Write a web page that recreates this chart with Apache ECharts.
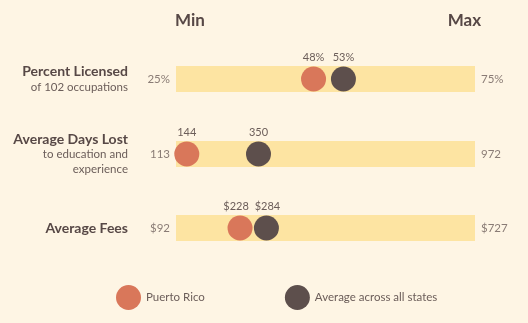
<!DOCTYPE html>
<html><head><meta charset="utf-8">
<script src="https://cdn.jsdelivr.net/npm/echarts@6/dist/echarts.min.js"></script>
<style>html,body{margin:0;padding:0;background:#fef5e4;}#c{width:528px;height:323px;}</style>
</head><body><div id="c"></div>
<script>
const rowTitles = ['Percent Licensed', 'Average Days Lost', 'Average Fees'];
const rowSubtitles = [['of 102 occupations'], ['to education and', 'experience'], []];
const minValues = [25, 113, 92];
const maxValues = [75, 972, 727];
const puertoRico = [48, 144, 228];
const allStates = [53, 350, 284];
const prefixes = ['', '', '$'];
const suffixes = ['%', '', ''];
const seriesNames = ['Puerto Rico', 'Average across all states'];
const headers = ['Min', 'Max'];

const FONT = 'Lato, "Open Sans", sans-serif';
const TXT = '#6b5d59';
const DARKTXT = '#574846';
const BAR = '#fde4a2';
const ORANGE = '#d9775a';
const BROWN = '#5d4f4c';
const tops = [66, 141, 215];

const fmt = (i, v) => prefixes[i] + v + suffixes[i];

const grids = [], xAxes = [], yAxes = [], series = [];
rowTitles.forEach((t, i) => {
  grids.push({left: 176, right: 53, top: tops[i], height: 26, containLabel: false});
  xAxes.push({type: 'value', gridIndex: i, min: minValues[i], max: maxValues[i], show: false});
  const lines = ['{t|' + t + '}'].concat(rowSubtitles[i].map(s => '{s|' + s + '}'));
  yAxes.push({type: 'category', gridIndex: i, data: [t],
    axisLine: {show: false}, axisTick: {show: false}, splitLine: {show: false},
    axisLabel: {margin: 48, align: 'right', formatter: () => lines.join('\n'),
      rich: {t: {fontFamily: FONT, fontSize: 14, fontWeight: 'bold', color: DARKTXT, lineHeight: 16, align: 'right'},
             s: {fontFamily: FONT, fontSize: 11.5, color: TXT, lineHeight: 15, align: 'right'}}}});
  // range bar + end labels
  series.push({type: 'scatter', name: 'range', xAxisIndex: i, yAxisIndex: i, symbolSize: 0, silent: true,
    data: [
      {value: [minValues[i], 0], label: {show: true, position: 'left', distance: 6, formatter: fmt(i, minValues[i])}},
      {value: [maxValues[i], 0], label: {show: true, position: 'right', distance: 6, formatter: fmt(i, maxValues[i])}}
    ],
    label: {fontFamily: FONT, fontSize: 11.5, color: TXT},
    markArea: {silent: true, itemStyle: {color: BAR}, data: [[{xAxis: minValues[i]}, {xAxis: maxValues[i]}]]}
  });
  [[puertoRico, ORANGE], [allStates, BROWN]].forEach(([arr, col], k) => {
    const close = Math.abs(allStates[i] - puertoRico[i]) / (maxValues[i] - minValues[i]) < 0.1;
    series.push({type: 'scatter', name: seriesNames[k], xAxisIndex: i, yAxisIndex: i, symbolSize: 25,
      itemStyle: {color: col, opacity: 1}, z: 3 + k,
      label: {show: true, position: 'top', distance: 4, fontFamily: FONT, fontSize: 11, color: TXT,
        offset: [(close && i === 2) ? (k === 0 ? -4 : 1) : 0, 0],
        formatter: () => fmt(i, arr[i])},
      data: [[arr[i], 0]]});
  });
});

const chart = echarts.init(document.getElementById('c'), null, {renderer: 'canvas'});
chart.setOption({
  backgroundColor: '#fef5e4',
  animation: false,
  grid: grids, xAxis: xAxes, yAxis: yAxes, series: series,
  legend: {data: seriesNames, left: 111, top: 280, icon: 'circle', itemWidth: 25, itemHeight: 25, itemGap: 80,
    selectedMode: false, textStyle: {fontFamily: FONT, fontSize: 11.5, color: TXT}},
  graphic: [
    {type: 'text', left: 175, top: 12, style: {text: headers[0], font: 'bold 17px ' + FONT, fill: DARKTXT}},
    {type: 'text', right: 47, top: 12, style: {text: headers[1], font: 'bold 17px ' + FONT, fill: DARKTXT}}
  ]
});
</script></body></html>
